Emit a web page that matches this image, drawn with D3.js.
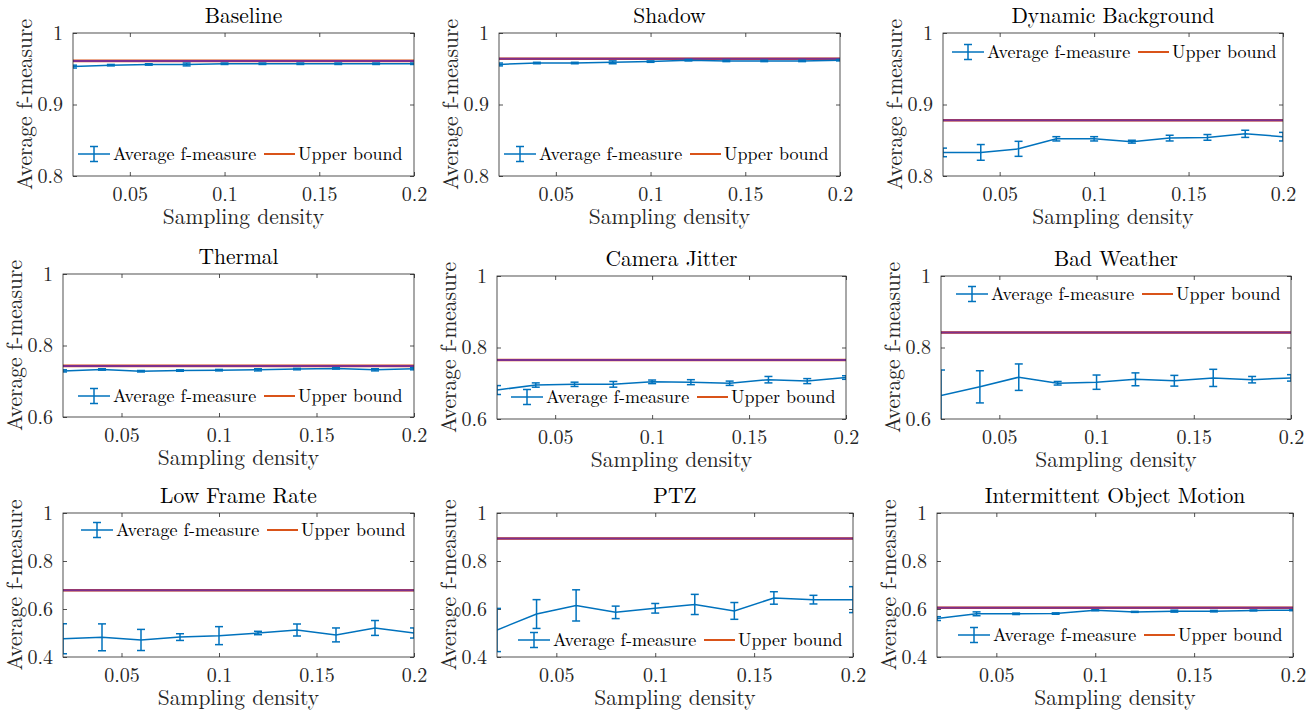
<!DOCTYPE html>
<html><head><meta charset="utf-8">
<script src="https://cdn.jsdelivr.net/npm/d3@7"></script>
</head><body style="margin:0;background:#fff">
<svg id="chart" width="1315" height="711" style="display:block"></svg>
<script>
// ---------- data ----------
const titles = ["Baseline","Shadow","Dynamic Background","Thermal","Camera Jitter","Bad Weather","Low Frame Rate","PTZ","Intermittent Object Motion"];
const samplingDensity = [0.02,0.04,0.06,0.08,0.10,0.12,0.14,0.16,0.18,0.20];
const xTicks = [0.05,0.1,0.15,0.2];
const xTickLabels = ["0.05","0.1","0.15","0.2"];
const yDomains = [[0.8,1],[0.8,1],[0.8,1],[0.6,1],[0.6,1],[0.6,1],[0.4,1],[0.4,1],[0.4,1]];
const yTicks = [[0.8,0.9,1],[0.8,0.9,1],[0.8,0.9,1],[0.6,0.8,1],[0.6,0.8,1],[0.6,0.8,1],[0.4,0.6,0.8,1],[0.4,0.6,0.8,1],[0.4,0.6,0.8,1]];
const yTickLabels = [["0.8","0.9","1"],["0.8","0.9","1"],["0.8","0.9","1"],["0.6","0.8","1"],["0.6","0.8","1"],["0.6","0.8","1"],["0.4","0.6","0.8","1"],["0.4","0.6","0.8","1"],["0.4","0.6","0.8","1"]];
const upperBound = [0.961,0.964,0.878,0.743,0.765,0.842,0.678,0.894,0.605];
const meanBaseline = [0.953,0.955,0.956,0.956,0.957,0.957,0.957,0.957,0.957,0.957];
const errBaseline  = [0.002,0.001,0.001,0.002,0.001,0.001,0.001,0.001,0.001,0.001];
const meanShadow   = [0.956,0.958,0.958,0.959,0.960,0.962,0.961,0.961,0.961,0.962];
const errShadow    = [0.002,0.001,0.001,0.002,0.001,0.001,0.001,0.001,0.001,0.001];
const meanDynamic  = [0.833,0.833,0.838,0.852,0.852,0.848,0.853,0.854,0.859,0.855];
const errDynamic   = [0.006,0.011,0.0105,0.003,0.003,0.002,0.004,0.004,0.005,0.006];
const meanThermal  = [0.729,0.733,0.728,0.730,0.731,0.732,0.734,0.736,0.732,0.735];
const errThermal   = [0.003,0.002,0.002,0.002,0.002,0.003,0.002,0.002,0.003,0.003];
const meanJitter   = [0.681,0.695,0.697,0.697,0.704,0.703,0.700,0.710,0.706,0.716];
const errJitter    = [0.0125,0.006,0.006,0.008,0.005,0.007,0.006,0.009,0.007,0.005];
const meanWeather  = [0.666,0.690,0.717,0.700,0.703,0.711,0.707,0.715,0.710,0.715];
const errWeather   = [0.071,0.045,0.037,0.005,0.020,0.018,0.015,0.024,0.009,0.009];
const meanLowFrame = [0.476,0.482,0.471,0.483,0.489,0.500,0.5125,0.492,0.521,0.500];
const errLowFrame  = [0.0625,0.056,0.044,0.014,0.0375,0.007,0.025,0.029,0.031,0.021];
const meanPTZ      = [0.5125,0.579,0.615,0.586,0.603,0.619,0.592,0.646,0.639,0.639];
const errPTZ       = [0.09,0.06,0.065,0.026,0.02,0.042,0.035,0.026,0.018,0.054];
const meanIOM      = [0.560,0.580,0.580,0.581,0.595,0.588,0.591,0.591,0.594,0.595];
const errIOM       = [0.008,0.008,0.003,0.003,0.002,0.002,0.004,0.003,0.002,0.002];
const means = [meanBaseline,meanShadow,meanDynamic,meanThermal,meanJitter,meanWeather,meanLowFrame,meanPTZ,meanIOM];
const errs  = [errBaseline,errShadow,errDynamic,errThermal,errJitter,errWeather,errLowFrame,errPTZ,errIOM];
const legendLabels = ["Average f-measure","Upper bound"];
const xLabel = "Sampling density", yLabel = "Average f-measure";

// ---------- layout (pixel boxes of each axes, legend anchor) ----------
const boxes = [
  {l:73,r:414,t:33,b:176, lx:78, ly:154},
  {l:499,r:840,t:33,b:176, lx:504, ly:154},
  {l:943,r:1283,t:33,b:176, lx:952, ly:52},
  {l:63,r:414,t:274,b:417, lx:78, ly:396},
  {l:497,r:846,t:276,b:419, lx:511, ly:397},
  {l:941,r:1291,t:276,b:419, lx:956, ly:294},
  {l:63,r:414,t:513,b:657, lx:81, ly:530},
  {l:497,r:853,t:513,b:657, lx:518, ly:640},
  {l:937,r:1293,t:513,b:657, lx:958, ly:635}
];
const BLUE="#0072BD", ORANGE="#D95319", PURPLE="#7E2F8E", AX="#262626";
const FONT='"Latin Modern Roman", "Liberation Serif", serif';

const svg = d3.select("#chart").attr("font-family",FONT);
const defs = svg.append("defs");

titles.forEach((title,i)=>{
  const B = boxes[i];
  const x = d3.scaleLinear().domain([0.02,0.2]).range([B.l,B.r]);
  const y = d3.scaleLinear().domain(yDomains[i]).range([B.b,B.t]);
  const g = svg.append("g");
  defs.append("clipPath").attr("id","clip"+i).append("rect")
    .attr("x",B.l).attr("y",B.t).attr("width",B.r-B.l).attr("height",B.b-B.t);

  const tl = 4;
  const bottom = d3.axisBottom(x).tickValues(xTicks).tickFormat((d,k)=>xTickLabels[k]).tickSizeInner(-tl).tickSizeOuter(0).tickPadding(11);
  const top = d3.axisTop(x).tickValues(xTicks).tickFormat("").tickSizeInner(-tl).tickSizeOuter(0);
  const left = d3.axisLeft(y).tickValues(yTicks[i]).tickFormat((d,k)=>yTickLabels[i][k]).tickSizeInner(-tl).tickSizeOuter(0).tickPadding(10);
  const right = d3.axisRight(y).tickValues(yTicks[i]).tickFormat("").tickSizeInner(-tl).tickSizeOuter(0);
  const styleAx = sel => { sel.attr("font-family",FONT).attr("font-size",20);
    sel.selectAll("path").remove(); sel.selectAll("line").attr("stroke",AX).attr("stroke-width",0.8);
    sel.selectAll("text").attr("fill",AX).attr("font-family",FONT).attr("font-size",20); };
  g.append("g").attr("transform",`translate(0,${B.b})`).call(bottom).call(styleAx);
  g.append("g").attr("transform",`translate(0,${B.t})`).call(top).call(styleAx);
  g.append("g").attr("transform",`translate(${B.l},0)`).call(left).call(styleAx);
  g.append("g").attr("transform",`translate(${B.r},0)`).call(right).call(styleAx);

  const plot = g.append("g").attr("clip-path",`url(#clip${i})`);
  plot.append("line").attr("x1",x(0.02)).attr("x2",x(0.2)).attr("y1",y(upperBound[i])).attr("y2",y(upperBound[i]))
    .attr("stroke",ORANGE).attr("stroke-width",2.6);
  plot.append("line").attr("x1",x(0.02)).attr("x2",x(0.2)).attr("y1",y(upperBound[i])).attr("y2",y(upperBound[i]))
    .attr("stroke",PURPLE).attr("stroke-width",2);
  const pts = samplingDensity.map((s,k)=>({s, m:means[i][k], e:errs[i][k]}));
  plot.append("path").datum(pts).attr("fill","none").attr("stroke",BLUE).attr("stroke-width",1.5)
    .attr("d", d3.line().x(d=>x(d.s)).y(d=>y(d.m)));
  const eb = plot.selectAll(".eb").data(pts).join("g").attr("stroke",BLUE).attr("stroke-width",1.5);
  eb.append("line").attr("x1",d=>x(d.s)).attr("x2",d=>x(d.s)).attr("y1",d=>y(d.m-d.e)).attr("y2",d=>y(d.m+d.e));
  eb.append("line").attr("x1",d=>x(d.s)-4).attr("x2",d=>x(d.s)+4).attr("y1",d=>y(d.m-d.e)).attr("y2",d=>y(d.m-d.e));
  eb.append("line").attr("x1",d=>x(d.s)-4).attr("x2",d=>x(d.s)+4).attr("y1",d=>y(d.m+d.e)).attr("y2",d=>y(d.m+d.e));

  g.append("rect").attr("x",B.l).attr("y",B.t).attr("width",B.r-B.l).attr("height",B.b-B.t)
    .attr("fill","none").attr("stroke",AX).attr("stroke-width",0.8);

  g.append("text").attr("x",(B.l+B.r)/2).attr("y",B.t-10).attr("text-anchor","middle")
    .attr("font-family",FONT).attr("font-size",21.5).attr("fill","#000").text(title);
  g.append("text").attr("x",(B.l+B.r)/2).attr("y",B.b+48).attr("text-anchor","middle")
    .attr("font-family",FONT).attr("font-size",21.5).attr("fill",AX).text(xLabel);
  g.append("text").attr("transform",`translate(${B.l-41},${(B.t+B.b)/2}) rotate(-90)`).attr("text-anchor","middle")
    .attr("font-family",FONT).attr("font-size",21.5).attr("fill",AX).text(yLabel);

  const L = g.append("g").attr("transform",`translate(${B.lx},${B.ly})`);
  L.append("line").attr("x1",0).attr("x2",32).attr("stroke",BLUE).attr("stroke-width",1.5);
  L.append("line").attr("x1",16).attr("x2",16).attr("y1",-7.5).attr("y2",7.5).attr("stroke",BLUE).attr("stroke-width",1.5);
  L.append("line").attr("x1",12).attr("x2",20).attr("y1",-7.5).attr("y2",-7.5).attr("stroke",BLUE).attr("stroke-width",1.5);
  L.append("line").attr("x1",12).attr("x2",20).attr("y1",7.5).attr("y2",7.5).attr("stroke",BLUE).attr("stroke-width",1.5);
  L.append("text").attr("x",35).attr("y",6).attr("font-family",FONT).attr("font-size",18).attr("fill","#000").text(legendLabels[0]);
  L.append("line").attr("x1",186).attr("x2",217).attr("stroke",ORANGE).attr("stroke-width",2);
  L.append("text").attr("x",220).attr("y",6).attr("font-family",FONT).attr("font-size",18).attr("fill","#000").text(legendLabels[1]);
});
</script>
</body></html>
